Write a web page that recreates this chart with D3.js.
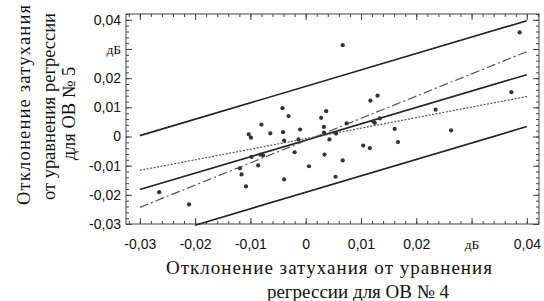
<!DOCTYPE html>
<html>
<head>
<meta charset="utf-8">
<script src="https://cdn.jsdelivr.net/npm/d3@7"></script>
<style>
  body { margin: 0; background: #fff; }
  svg { display: block; }
</style>
</head>
<body>
<div id="chart-area"></div>
<script>
'use strict';

// точки: отклонение затухания ОВ № 4 (x) и ОВ № 5 (y), дБ
let devX = [-0.0265, -0.0211, -0.0119, -0.0116, -0.0108, -0.0103, -0.0099, -0.0098, -0.0086, -0.0082,
    -0.0077, -0.0080, -0.0064, -0.0042, -0.0031, -0.0041, -0.0039, -0.0039, -0.0020, -0.0010,
    -0.0013, 0.0006, 0.0028, 0.0037, 0.0033, 0.0033, 0.0043, 0.0034, 0.0054, 0.0055,
    0.0074, 0.0067, 0.0067, 0.0117, 0.0130, 0.0122, 0.0125, 0.0134, 0.0161, 0.0167,
    0.0104, 0.0116, 0.0235, 0.0263, 0.0387, 0.0372];
let devY = [-0.0191, -0.0233, -0.0109, -0.0130, -0.0171, 0.0007, -0.0004, -0.0070, -0.0099, -0.0062,
    -0.0065, 0.0041, 0.0011, 0.0097, 0.0070, 0.0015, -0.0014, -0.0147, -0.0054, 0.0024,
    -0.0010, -0.0102, 0.0064, 0.0087, 0.0033, 0.0013, -0.0010, -0.0062, -0.0138, 0.0010,
    0.0045, -0.0082, 0.0313, 0.0123, 0.0140, 0.0052, 0.0047, 0.0062, 0.0026, -0.0019,
    -0.0031, -0.0040, 0.0092, 0.0021, 0.0357, 0.0152];

// линии: [x0, y0, x1, y1]
let regLine = [-0.03, -0.0182, 0.04, 0.0212];
let upperBand = [-0.03, 0.0003, 0.04, 0.0397];
let lowerBand = [-0.02, -0.0304, 0.04, 0.0034];
let dashDotLine = [-0.03, -0.0243, 0.04, 0.0291];
let dottedLine = [-0.03, -0.0116, 0.04, 0.0137];

let xTicks = [-0.03, -0.02, -0.01, 0, 0.01, 0.02, 0.03, 0.04];
let xTickLabels = ['-0,03', '-0,02', '-0,01', '0', '0,01', '0,02', 'дБ', '0,04'];
let yTicks = [0.04, 0.03, 0.02, 0.01, 0, -0.01, -0.02, -0.03];
let yTickLabels = ['0,04', 'дБ', '0,02', '0,01', '0', '-0,01', '-0,02', '-0,03'];

let yTitle = ['Отклонение затухания', 'от уравнения регрессии', 'для ОВ № 5'];
let xTitle = ['Отклонение затухания от уравнения', 'регрессии для ОВ № 4'];

draw();

function draw() {
    let W = 544, H = 301;
    let left = 126, right = 539, top = 14, bottom = 224;

    let svg = d3.select('#chart-area').append('svg')
        .attr('width', W)
        .attr('height', H);

    let x = d3.scaleLinear()
        .domain([-0.0325, 0.0422])
        .range([left, right]);

    let y = d3.scaleLinear()
        .domain([-0.03, 0.042])
        .range([bottom, top]);

    let minorX = d3.range(-32, 43, 2).map(d => d / 1000);
    let minorY = d3.range(-30, 43, 2).map(d => d / 1000);

    let frameColor = '#444';

    function styleAxis(g) {
        g.select('.domain').remove();
        g.selectAll('line').attr('stroke', frameColor);
    }

    // малые деления
    svg.append('g').attr('transform', `translate(0,${bottom})`)
        .call(d3.axisBottom(x).tickValues(minorX).tickSize(-3).tickFormat(''))
        .call(styleAxis);
    svg.append('g').attr('transform', `translate(0,${top})`)
        .call(d3.axisTop(x).tickValues(minorX).tickSize(-3).tickFormat(''))
        .call(styleAxis);
    svg.append('g').attr('transform', `translate(${left},0)`)
        .call(d3.axisLeft(y).tickValues(minorY).tickSize(-3).tickFormat(''))
        .call(styleAxis);
    svg.append('g').attr('transform', `translate(${right},0)`)
        .call(d3.axisRight(y).tickValues(minorY).tickSize(-3).tickFormat(''))
        .call(styleAxis);

    // основные деления с подписями
    let gx = svg.append('g').attr('transform', `translate(0,${bottom})`)
        .call(d3.axisBottom(x).tickValues(xTicks).tickSize(-6).tickPadding(15)
            .tickFormat((d, i) => xTickLabels[i]))
        .call(styleAxis);
    let gy = svg.append('g').attr('transform', `translate(${left},0)`)
        .call(d3.axisLeft(y).tickValues(yTicks).tickSize(-6).tickPadding(5)
            .tickFormat((d, i) => yTickLabels[i]))
        .call(styleAxis);
    svg.append('g').attr('transform', `translate(0,${top})`)
        .call(d3.axisTop(x).tickValues(xTicks).tickSize(-6).tickFormat(''))
        .call(styleAxis);
    svg.append('g').attr('transform', `translate(${right},0)`)
        .call(d3.axisRight(y).tickValues(yTicks).tickSize(-6).tickFormat(''))
        .call(styleAxis);

    let serif = 'Liberation Serif, Times New Roman, serif';

    [gx, gy].forEach(g => {
        g.selectAll('text')
            .attr('fill', '#111')
            .attr('font-size', 14)
            .attr('font-family', 'Liberation Sans, Arial, sans-serif')
            .filter(function() { return this.textContent === 'дБ'; })
            .attr('font-family', serif)
            .attr('font-size', 13.5);
    });

    // рамка
    svg.append('rect')
        .attr('x', left)
        .attr('y', top)
        .attr('width', right - left)
        .attr('height', bottom - top)
        .attr('fill', 'none')
        .attr('stroke', frameColor)
        .attr('stroke-width', 1);

    let lines = [
        { l: upperBand, dash: null, w: 1.6, c: '#222' },
        { l: regLine, dash: null, w: 1.6, c: '#222' },
        { l: lowerBand, dash: null, w: 1.6, c: '#222' },
        { l: dashDotLine, dash: '9,3,2,3', w: 1.2, c: '#555' },
        { l: dottedLine, dash: '2,1.5', w: 1.2, c: '#555' }
    ];

    svg.selectAll('line.fit')
        .data(lines)
        .enter()
        .append('line')
            .attr('class', 'fit')
            .attr('x1', d => x(d.l[0]))
            .attr('y1', d => y(d.l[1]))
            .attr('x2', d => x(d.l[2]))
            .attr('y2', d => y(d.l[3]))
            .attr('stroke', d => d.c)
            .attr('stroke-width', d => d.w)
            .attr('stroke-dasharray', d => d.dash);

    svg.selectAll('circle')
        .data(devX)
        .enter()
        .append('circle')
            .attr('cx', d => x(d))
            .attr('cy', (d, i) => y(devY[i]))
            .attr('r', 2.1)
            .attr('fill', '#333');

    // подписи осей
    function fit(sel, len) {
        if (len) sel.attr('textLength', len).attr('lengthAdjust', 'spacing');
    }

    let xt = [{ cx: 329, y: 274, len: 326 }, { cx: 358, y: 298, len: null }];
    svg.append('g')
        .selectAll('text')
        .data(xTitle)
        .enter()
        .append('text')
            .attr('x', (d, i) => xt[i].cx)
            .attr('y', (d, i) => xt[i].y)
            .attr('text-anchor', 'middle')
            .attr('font-family', serif)
            .attr('font-size', 19)
            .attr('fill', '#111')
            .text(d => d)
            .each(function(d, i) { fit(d3.select(this), xt[i].len); });

    let yt = [{ c: 105, b: 30, len: 200 }, { c: 106.5, b: 55, len: 187 }, { c: 113.5, b: 75, len: null }];
    svg.append('g')
        .attr('transform', 'rotate(-90)')
        .selectAll('text')
        .data(yTitle)
        .enter()
        .append('text')
            .attr('x', (d, i) => -yt[i].c)
            .attr('y', (d, i) => yt[i].b)
            .attr('text-anchor', 'middle')
            .attr('font-family', serif)
            .attr('font-size', 18.5)
            .attr('fill', '#111')
            .text(d => d)
            .each(function(d, i) { fit(d3.select(this), yt[i].len); });
}
</script>
</body>
</html>
